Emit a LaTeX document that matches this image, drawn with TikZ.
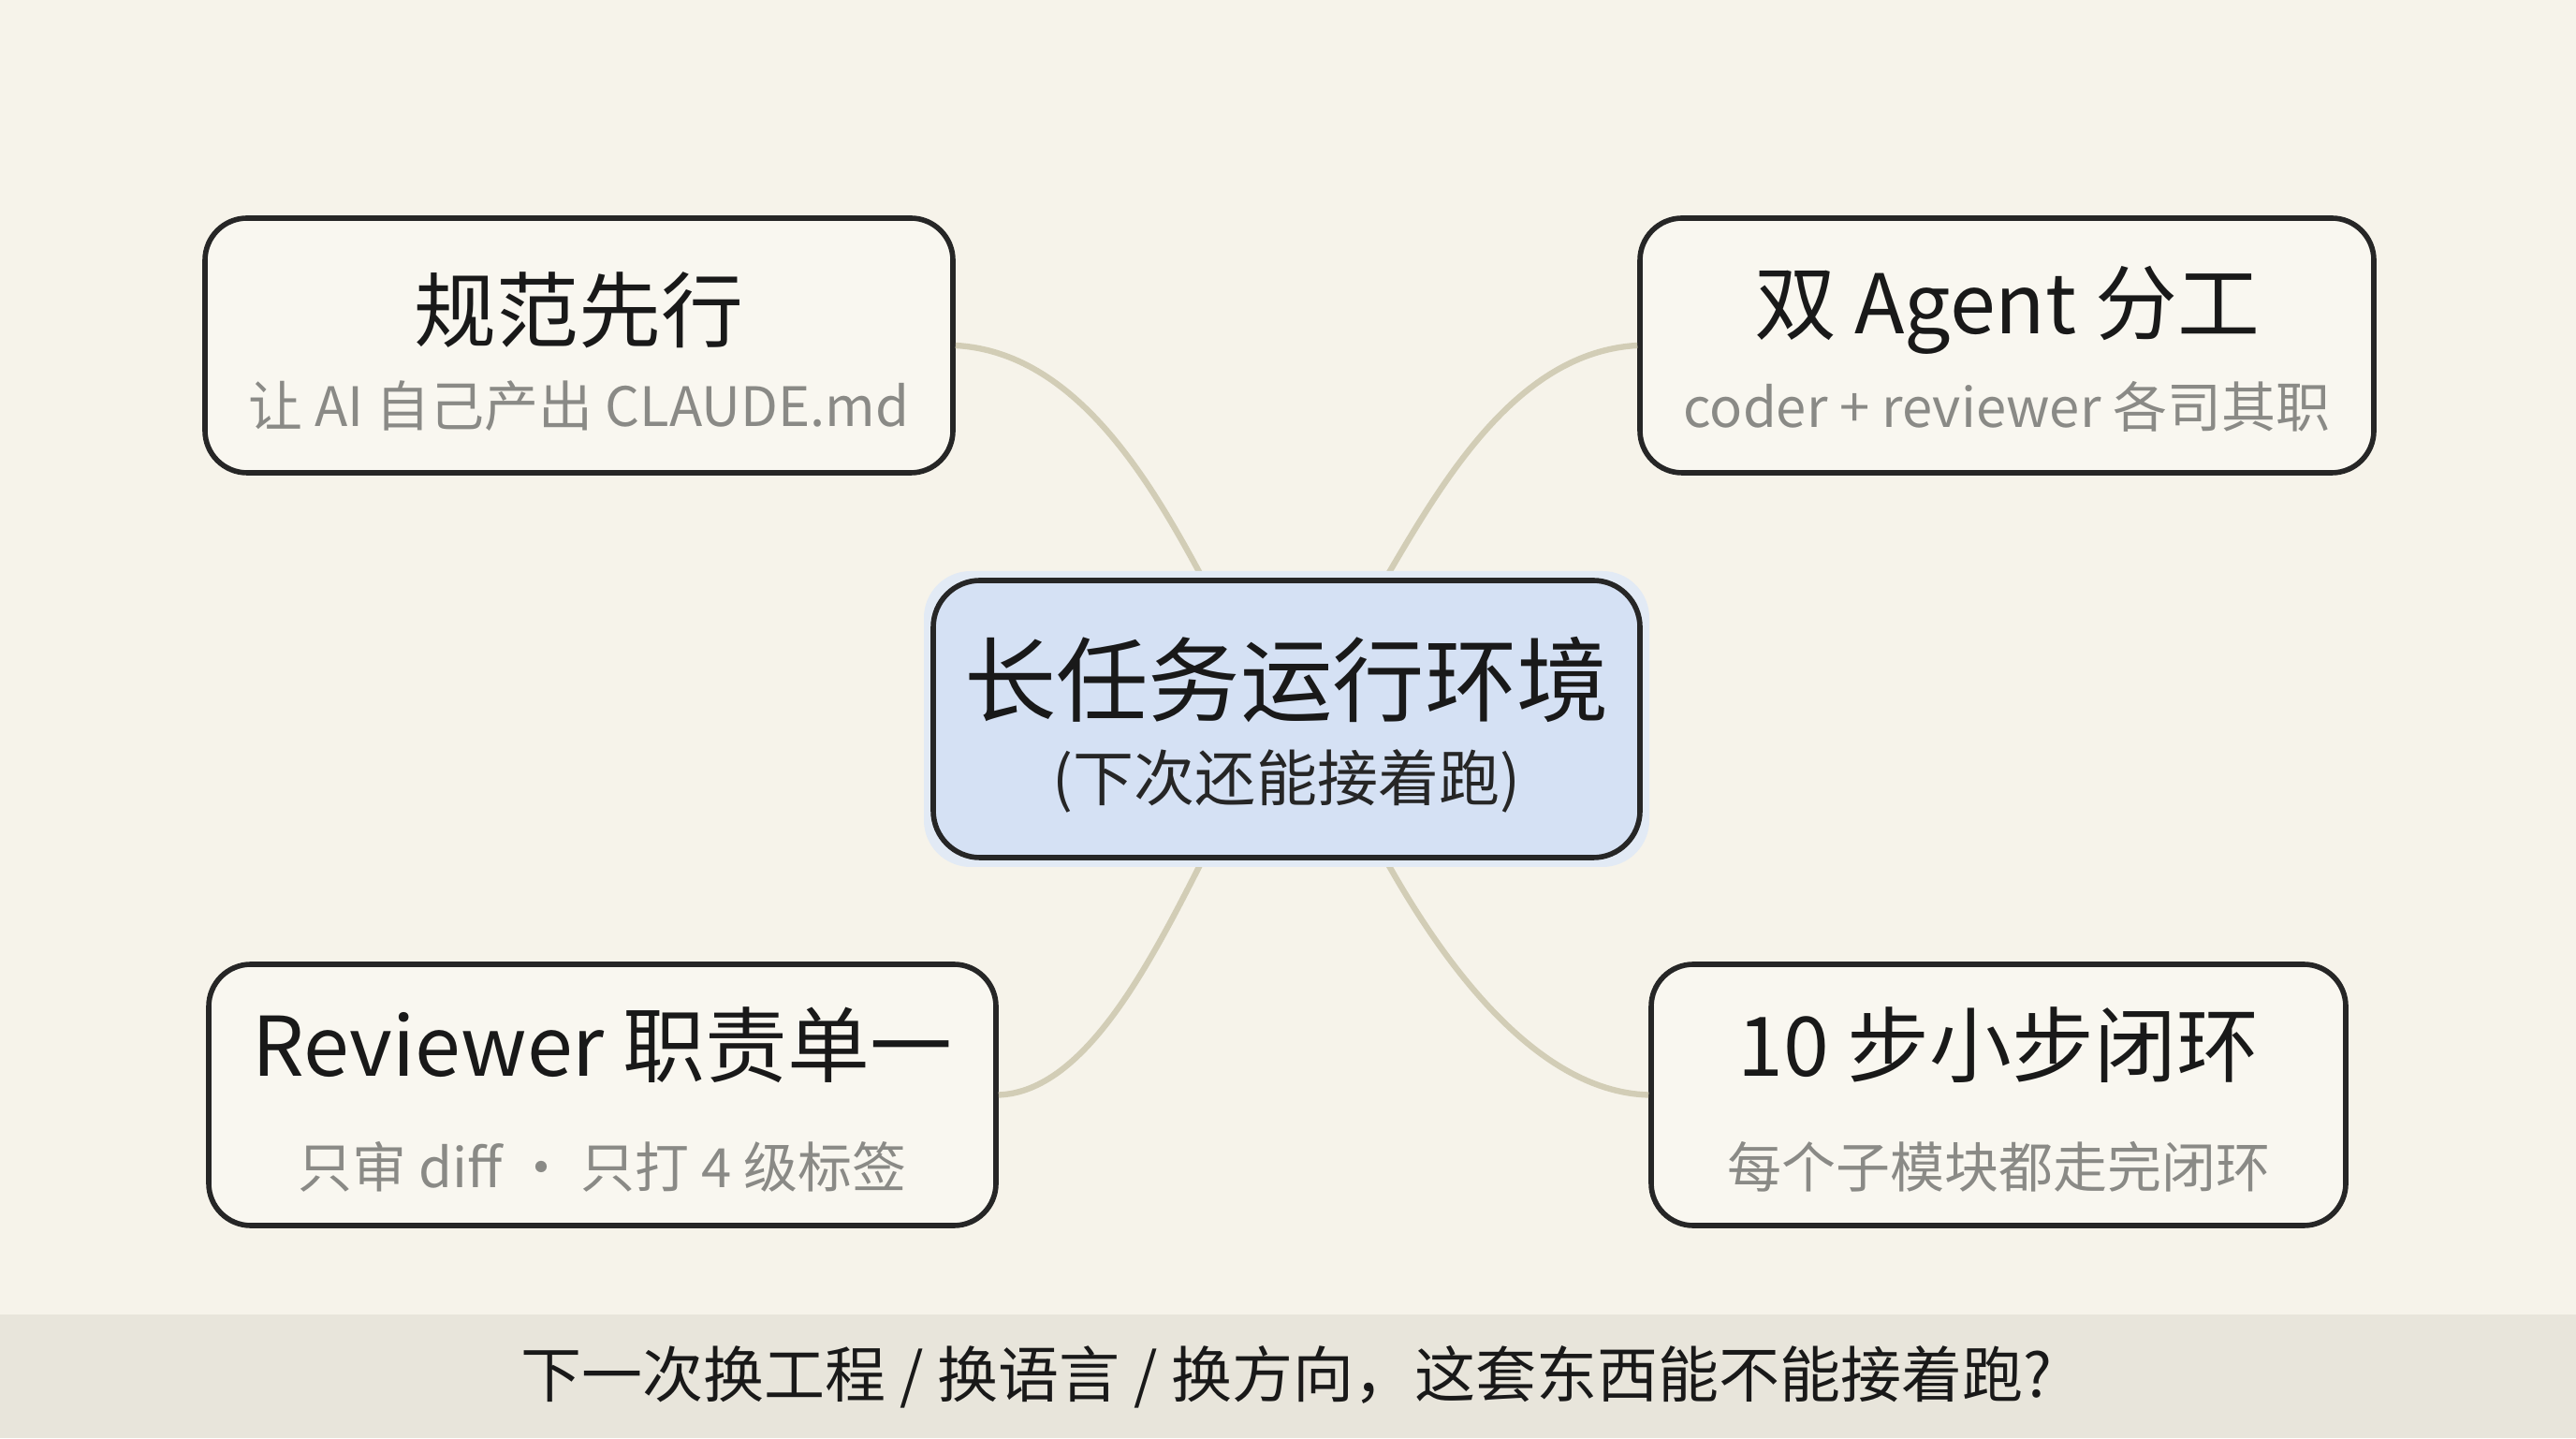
\documentclass[tikz,border=0pt]{standalone}
\usepackage{fontspec}
\setmainfont{Noto Sans CJK SC}
\begin{document}
\begin{tikzpicture}
\definecolor{bg}{HTML}{F6F3EA}
\definecolor{boxfill}{HTML}{F9F7F0}
\definecolor{cfill}{HTML}{D5E1F4}
\definecolor{cglow}{HTML}{E2EAF5}
\definecolor{sub}{HTML}{8A8A86}
\definecolor{bar}{HTML}{E8E5DB}
\definecolor{link}{HTML}{D2CDB6}
\tikzset{
 card/.style={draw=black!85,line width=1.6pt,rounded corners=0.45cm,fill=boxfill},
 ttl/.style={font=\fontsize{25}{28}\selectfont,text=black!90},
 stl/.style={font=\fontsize{16.5}{20}\selectfont,text=sub},
 lnk/.style={draw=link,line width=1.8pt}
}
\fill[bg] (0,0) rectangle (27.52,15.36);
\fill[bar] (0,0) rectangle (27.52,1.32);
% cards
\node[card,minimum width=7.99cm,minimum height=2.72cm] (tl) at (6.185,11.67) {};
\node[card,minimum width=7.84cm,minimum height=2.72cm] (tr) at (21.44,11.67) {};
\node[card,minimum width=8.41cm,minimum height=2.79cm] (bl) at (6.435,3.665) {};
\node[card,minimum width=7.42cm,minimum height=2.79cm] (br) at (21.35,3.665) {};
% links
\coordinate (c1) at (12.86,9.16);
\coordinate (c2) at (14.79,9.16);
\coordinate (c3) at (12.86,6.20);
\coordinate (c4) at (14.79,6.20);
\draw[lnk] (c1) .. controls (12.3,10.2) and (11.5,11.6) .. (tl.east);
\draw[lnk] (c2) .. controls (15.4,10.2) and (16.2,11.6) .. (tr.west);
\draw[lnk] (c3) .. controls (12.3,5.1) and (11.6,3.7) .. (bl.east);
\draw[lnk] (c4) .. controls (15.4,5.1) and (16.4,3.7) .. (br.west);
\fill[cglow,rounded corners=0.5cm] (9.87,6.1) rectangle (17.62,9.26);
\node[card,fill=cfill,minimum width=7.55cm,minimum height=2.96cm,rounded corners=0.5cm] (c) at (13.745,7.68) {};
% texts
\node[ttl] (t1) at (6.185,12.05) {规范先行};
\node[stl] (s1) at (6.185,11.02) {让 AI 自己产出 CLAUDE.md};
\node[ttl] (t2) at (21.44,12.05) {双 Agent 分工};
\node[stl] (s2) at (21.44,11.02) {coder + reviewer 各司其职};
\node[ttl] (t3) at (6.435,4.2) {Reviewer 职责单一};
\node[stl] (s3) at (6.435,2.9) {只审 diff · 只打 4 级标签};
\node[ttl] (t4) at (21.35,4.2) {10 步小步闭环};
\node[stl] (s4) at (21.35,2.9) {每个子模块都走完闭环};
\node[font=\fontsize{28}{32}\selectfont,text=black!90] (ct) at (13.745,8.1) {长任务运行环境};
\node[font=\fontsize{18.5}{22}\selectfont,text=black!85] (cs) at (13.745,7.02) {(下次还能接着跑)};
\node[font=\fontsize{18.5}{22}\selectfont,text=black!90] (q) at (13.745,0.65) {下一次换工程 / 换语言 / 换方向，这套东西能不能接着跑?};
\end{tikzpicture}
\end{document}
